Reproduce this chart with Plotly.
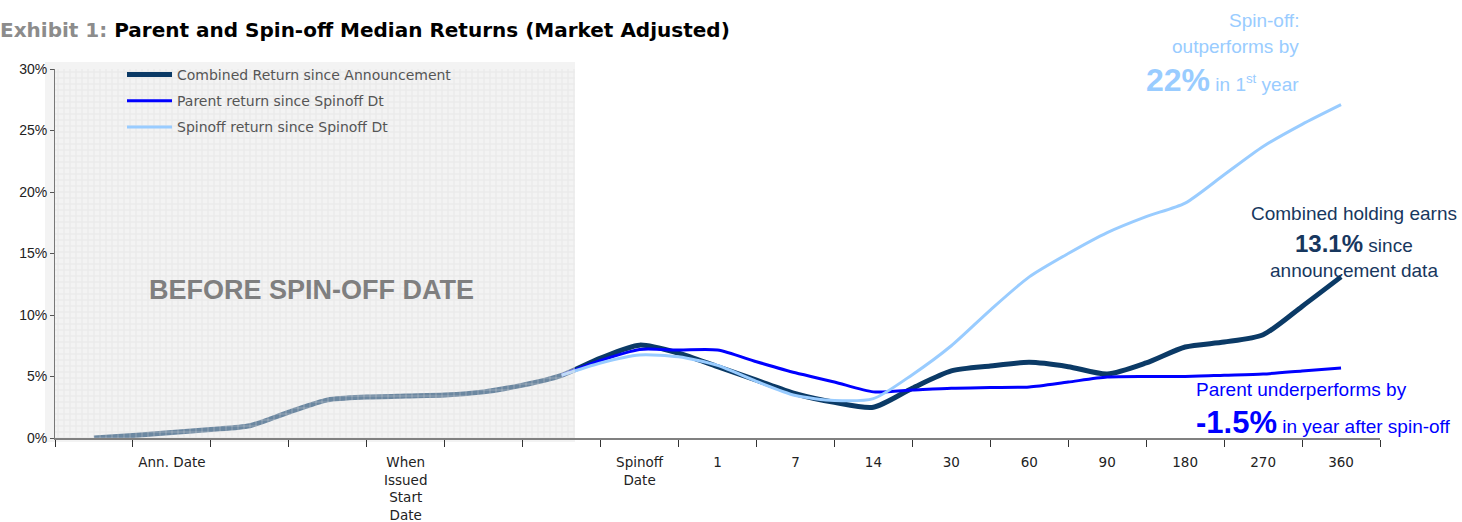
import plotly.graph_objects as go

# ---------------- data (values in %) ----------------
# x positions are in category units (0 = first category, step 0.5)
pos_combined = [0, 0.5, 1, 1.5, 2, 2.5, 3, 3.5, 4, 4.5, 5, 5.5, 6,
                6.5, 7, 7.5, 8, 8.5, 9, 9.5, 10, 10.5, 11, 11.5, 12,
                12.5, 13, 13.5, 14, 14.5, 15, 15.5, 16]
combined = [0.0, 0.2, 0.45, 0.7, 1.0, 2.1, 3.1, 3.33, 3.42, 3.5, 3.75, 4.3, 5.1,
            6.5, 7.55, 6.9, 5.8, 4.7, 3.6, 2.9, 2.5, 4.05, 5.45, 5.85, 6.15,
            5.8, 5.2, 6.1, 7.4, 7.8, 8.4, 10.7, 13.1]

pos_after = [6, 6.5, 7, 7.5, 8, 8.5, 9, 9.5, 10, 10.5, 11, 11.5, 12,
             12.5, 13, 13.5, 14, 14.5, 15, 15.5, 16]
parent = [5.1, 6.3, 7.2, 7.15, 7.15, 6.2, 5.3, 4.55, 3.75, 3.9, 4.05, 4.1, 4.15,
          4.55, 4.95, 5.0, 5.0, 5.1, 5.2, 5.45, 5.7]
spinoff = [5.1, 6.1, 6.75, 6.6, 5.9, 4.6, 3.45, 3.05, 3.2, 5.15, 7.5, 10.4, 13.1,
           15.0, 16.7, 18.0, 19.1, 21.4, 23.7, 25.5, 27.1]

tick_pos = [1, 4, 7, 8, 9, 10, 11, 12, 13, 14, 15, 16]
tick_labels = ["Ann. Date", "When<br>Issued<br>Start<br>Date", "Spinoff<br>Date",
               "1", "7", "14", "30", "60", "90", "180", "270", "360"]
y_ticks = [0, 5, 10, 15, 20, 25, 30]
y_labels = ["0%", "5%", "10%", "15%", "20%", "25%", "30%"]
boundaries = [b - 0.5 for b in range(0, 18)]
n_categories = 17
spinoff_index = 7

C_COMB = "#0b3a66"
C_PAR = "#0000ff"
C_SPIN = "#99ccff"
FONT = "Liberation Sans, Arial, sans-serif"
WIDE = "DejaVu Sans, sans-serif"

fig = go.Figure()
fig.add_trace(go.Scatter(x=pos_combined, y=combined, mode="lines",
                         name="Combined Return since Announcement",
                         line=dict(color=C_COMB, width=5, shape="spline", smoothing=0.7),
                         legendgroup="a"))
fig.add_trace(go.Scatter(x=pos_after, y=parent, mode="lines",
                         name="Parent return since Spinoff Dt",
                         line=dict(color=C_PAR, width=3, shape="spline", smoothing=0.7),
                         legendgroup="b"))
fig.add_trace(go.Scatter(x=pos_after, y=spinoff, mode="lines",
                         name="Spinoff return since Spinoff Dt",
                         line=dict(color=C_SPIN, width=3, shape="spline", smoothing=0.7),
                         legendgroup="c"))

# patterned "before spin-off" overlay drawn above the lines
sx0, sx1 = -0.5, spinoff_index - 0.83
fig.add_trace(go.Scatter(x=[sx0, sx1, sx1, sx0, sx0], y=[0, 0, 30, 30, 0],
                         mode="none", fill="toself",
                         fillcolor="rgba(243,243,243,0.42)",
                         fillpattern=dict(shape="+", fgcolor="#d9d9d9", fgopacity=0.8,
                                          size=6, solidity=0.15, fillmode="overlay"),
                         showlegend=False, hoverinfo="skip"))

W, H = 1462, 522
L, R, T, B = 55, 82, 69, 84
pw, ph = W - L - R, H - T - B

def px(x):
    return (x - L) / pw

def py(y):
    return (H - B - y) / ph

# background extension of the shaded zone (slightly beyond axes)
fig.add_shape(type="rect", xref="paper", yref="paper", layer="below",
              x0=px(45), x1=px(575), y0=py(442), y1=py(62),
              fillcolor="#f3f3f3", line=dict(width=0))

ann = []
ann.append(dict(text="BEFORE SPIN-OFF DATE", x=px(311), y=py(290), xref="paper", yref="paper",
                xanchor="center", yanchor="middle",
                showarrow=False, font=dict(family=FONT, size=27, color="#7f7f7f", weight="bold")))
# spin-off callout
for txt, yy in [("Spin-off:", 20), ("outperforms by", 47),
                ("<span style='font-size:32px'><b>22%</b></span> in 1<sup>st</sup> year", 80)]:
    ann.append(dict(text=txt, x=px(1301), y=py(yy), xref="paper", yref="paper",
                    xanchor="right", yanchor="middle", showarrow=False,
                    font=dict(family=FONT, size=19, color=C_SPIN)))
# combined callout
for txt, yy in [("Combined holding earns", 213),
                ("<span style='font-size:24px'><b>13.1%</b></span> since", 243),
                ("announcement data", 270)]:
    ann.append(dict(text=txt, x=px(1354), y=py(yy), xref="paper", yref="paper",
                    xanchor="center", yanchor="middle", showarrow=False,
                    font=dict(family=FONT, size=19, color="#17375e")))
# parent callout
for txt, yy in [("Parent underperforms by", 389),
                ("<span style='font-size:31px'><b>-1.5%</b></span> in year after spin-off", 422)]:
    ann.append(dict(text=txt, x=px(1194), y=py(yy), xref="paper", yref="paper",
                    xanchor="left", yanchor="middle", showarrow=False,
                    font=dict(family=FONT, size=19, color=C_PAR)))

fig.update_layout(
    width=W, height=H,
    margin=dict(l=L, r=R, t=T, b=B, autoexpand=False),
    paper_bgcolor="white", plot_bgcolor="white",
    title=dict(text="<b><span style='color:#8c8c8c'>Exhibit 1:</span> Parent and Spin-off Median Returns (Market Adjusted)</b>",
               x=0.0, xref="container", xanchor="left", y=1 - 30 / H, yref="container", yanchor="middle",
               font=dict(family=WIDE, size=20, color="#000000")),
    showlegend=True,
    legend=dict(x=px(122), y=py(59), xanchor="left", yanchor="top", itemwidth=45,
                bgcolor="rgba(0,0,0,0)", font=dict(family=WIDE, size=14, color="#555555"),
                tracegroupgap=5, traceorder="grouped"),
    annotations=ann,
    xaxis=dict(range=[-0.5, n_categories - 0.5], tickvals=tick_pos, ticktext=tick_labels,
               ticks="", showgrid=False, zeroline=False, showline=True, automargin=False,
               linecolor="#808080", linewidth=2, ticklabelstandoff=11,
               tickfont=dict(family=WIDE, size=13.5, color="#222222"),
               minor=dict(tickvals=boundaries, ticks="outside", ticklen=7,
                          tickcolor="#333333", tickwidth=1, showgrid=False)),
    yaxis=dict(range=[0, 30], tickvals=y_ticks, ticktext=y_labels, automargin=False,
               ticks="outside", ticklen=4, tickcolor="#555555",
               showgrid=False, zeroline=False, showline=True, linecolor="#777777", linewidth=1,
               tickfont=dict(family=FONT, size=14, color="#222222")),
)

fig.write_html("out.html")
